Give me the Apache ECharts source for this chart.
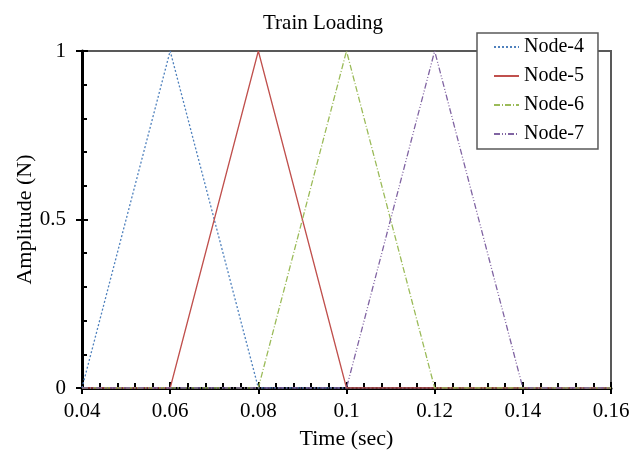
<!DOCTYPE html>
<html>
<head>
<meta charset="utf-8">
<script src="https://cdn.jsdelivr.net/npm/echarts@6/dist/echarts.min.js"></script>
<style>
html,body{margin:0;padding:0;background:#fff;}
#chart{width:641px;height:452px;}
</style>
</head>
<body>
<div id="chart"></div>
<script>
const titleText = 'Train Loading';
const xName = 'Time (sec)';
const yName = 'Amplitude (N)';
const time = [0.04, 0.06, 0.08, 0.10, 0.12, 0.14, 0.16];
const node4 = [0, 1, 0, 0, 0, 0, 0];
const node5 = [0, 0, 1, 0, 0, 0, 0];
const node6 = [0, 0, 0, 1, 0, 0, 0];
const node7 = [0, 0, 0, 0, 1, 0, 0];
const seriesNames = ['Node-4', 'Node-5', 'Node-6', 'Node-7'];
const seriesValues = [node4, node5, node6, node7];
const colors = ['#4F81BD', '#C0504D', '#9BBB59', '#8064A2'];
const dashTypes = [[2, 2], 'solid', [6, 2, 1, 2], [6, 2, 1, 2, 1, 2]];

const font = 'Liberation Serif';
const fmt = v => String(parseFloat(Number(v).toFixed(3)));

const chart = echarts.init(document.getElementById('chart'), null, {renderer: 'canvas'});
const axisCommonX = {type: 'value', min: 0.04, max: 0.16, interval: 0.02, gridIndex: 0, position: 'bottom'};
const axisCommonY = {type: 'value', min: 0, max: 1, interval: 0.5, gridIndex: 0, position: 'left'};

chart.setOption({
  animation: false,
  backgroundColor: '#fff',
  title: {
    text: titleText, left: 258, top: 8,
    textStyle: {fontFamily: font, fontSize: 21, fontWeight: 'normal', color: '#000'}
  },
  grid: {left: 82, right: 30, top: 51, bottom: 64, containLabel: false, outerBoundsMode: 'none',
    show: true, borderColor: '#595959', borderWidth: 2, backgroundColor: 'transparent'},
  legend: {
    orient: 'vertical', left: 477, top: 33,
    data: seriesNames,
    itemWidth: 25, itemHeight: 14, itemGap: 9,
    padding: [4, 14, 5, 16],
    itemStyle: {opacity: 0},
    backgroundColor: '#fff', borderColor: '#595959', borderWidth: 1.5,
    textStyle: {fontFamily: font, fontSize: 20, color: '#000'}
  },
  xAxis: [
    Object.assign({}, axisCommonX, {
      name: xName, nameLocation: 'middle', nameGap: 40, nameMoveOverlap: false,
      nameTextStyle: {fontFamily: font, fontSize: 22, color: '#000'},
      axisLine: {show: true, onZero: false, lineStyle: {color: '#000', width: 3}},
      axisTick: {show: true, inside: false, length: 6, lineStyle: {color: '#000', width: 2}},
      axisLabel: {show: true, margin: 13, formatter: fmt, fontFamily: font, fontSize: 21, color: '#000'},
      splitLine: {show: false}
    }),
    Object.assign({}, axisCommonX, {
      axisLine: {show: false},
      axisTick: {show: true, inside: true, length: 6, lineStyle: {color: '#000', width: 2}},
      minorTick: {show: true, splitNumber: 5, length: 5, lineStyle: {color: '#000', width: 2}},
      axisLabel: {show: false},
      splitLine: {show: false}
    })
  ],
  yAxis: [
    Object.assign({}, axisCommonY, {
      name: yName, nameLocation: 'middle', nameGap: 46, nameMoveOverlap: false,
      nameTextStyle: {fontFamily: font, fontSize: 22, color: '#000'},
      axisLine: {show: true, onZero: false, lineStyle: {color: '#000', width: 3}},
      axisTick: {show: true, inside: false, length: 6, lineStyle: {color: '#000', width: 2}},
      axisLabel: {show: true, margin: 16, formatter: fmt, fontFamily: font, fontSize: 21, color: '#000'},
      splitLine: {show: false}
    }),
    Object.assign({}, axisCommonY, {
      axisLine: {show: false},
      axisTick: {show: true, inside: true, length: 6, lineStyle: {color: '#000', width: 2}},
      minorTick: {show: true, splitNumber: 5, length: 5, lineStyle: {color: '#000', width: 2}},
      axisLabel: {show: false},
      splitLine: {show: false}
    })
  ],
  series: seriesNames.map((name, i) => ({
    name: name,
    type: 'line',
    xAxisIndex: 0, yAxisIndex: 0,
    data: time.map((t, j) => [t, seriesValues[i][j]]),
    symbol: 'none',
    color: colors[i],
    lineStyle: {color: colors[i], width: 1.3, type: dashTypes[i]}
  }))
});
</script>
</body>
</html>
